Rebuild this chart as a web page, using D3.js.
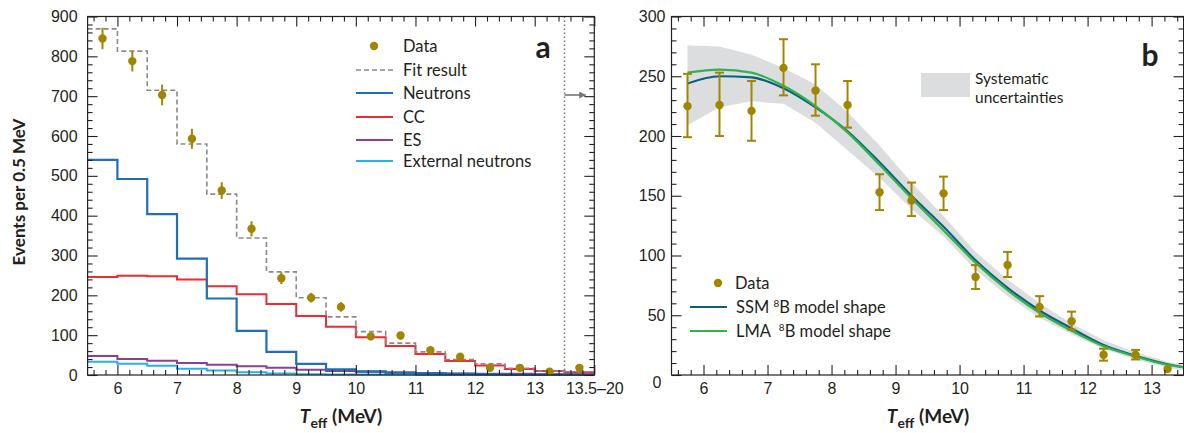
<!DOCTYPE html>
<html>
<head>
<meta charset="utf-8">
<script src="https://cdn.jsdelivr.net/npm/d3@7"></script>
<style>
  html, body { margin: 0; padding: 0; background: #fff; }
  svg { display: block; font-family: Lato, "Open Sans", sans-serif; }
  .tick text { font-size: 16px; fill: #231f20; }
</style>
</head>
<body>
<svg id="chart" width="1184" height="433"></svg>
<script>
// ---------- Panel a data (bins of 0.5 MeV; last bin = 13.5–20 MeV) ----------
const binEdgesA = [5.5, 6, 6.5, 7, 7.5, 8, 8.5, 9, 9.5, 10, 10.5, 11, 11.5, 12, 12.5, 13, 13.5, 14];
const dataA = [845, 788, 703, 593, 463, 367, 243, 194, 171, 97, 99, 62, 46, 18, 18, 8, 18];
const errA = [27, 26, 26, 25, 21, 19, 15, 12, 12, 10, 10, 8, 7, 6, 6, 4, 5];
const fitA = [869, 813, 715, 580, 454, 344, 259, 194, 146, 109, 80, 58, 39, 28, 17, 10, 8];
const neutronsA = [540, 492, 404, 292, 192, 111, 58, 28, 14, 9, 6, 4, 3, 2, 1, 1, 1];
const ccA = [246, 249, 248, 240, 223, 203, 178, 148, 121, 95, 73, 53, 35, 24, 15, 10, 7];
const esA = [48, 40, 36, 30, 26, 22, 18, 13, 10, 8, 6, 5, 4, 3, 3, 2, 2];
const extA = [33, 28, 23, 16, 11, 7, 4, 2, 1, 1, 1, 0, 0, 0, 0, 0, 0];
const xTicksA = [6, 7, 8, 9, 10, 11, 12, 13, 14];
const xTickLabelsA = ["6", "7", "8", "9", "10", "11", "12", "13", "13.5\u201320"];
const yTicksA = [0, 100, 200, 300, 400, 500, 600, 700, 800, 900];
const legendA = ["Data", "Fit result", "Neutrons", "CC", "ES", "External neutrons"];

// ---------- Panel b data ----------
const energyB = [5.75, 6.25, 6.75, 7.25, 7.75, 8.25, 8.75, 9.25, 9.75, 10.25, 10.75, 11.25, 11.75, 12.25, 12.75, 13.25];
const dataB = [225, 226, 221, 257, 238, 226, 153, 146, 152, 82, 92, 57, 45, 17, 17, 5];
const errLoB = [26, 26, 25, 23, 21, 19, 15, 13, 14, 10, 10, 8, 7, 5, 4, 0];
const errHiB = [27, 27, 25, 24, 22, 20, 15, 15, 14, 10, 11, 9, 8, 5, 4, 0];
const curveE = [5.75, 6.25, 6.75, 7.25, 7.75, 8.25, 8.75, 9.25, 9.75, 10.25, 10.75, 11.25, 11.75, 12.25, 12.75, 13.25, 13.5];
const ssmB = [244, 250, 249, 240, 224, 204, 178, 150, 124, 96, 73, 54, 39, 25, 16, 9, 6.5];
const lmaB = [253, 255.5, 253, 242, 225, 203, 176, 148, 121, 94, 71, 52, 37, 24, 15.5, 8.5, 6.5];
const bandHiB = [276, 275, 268, 257, 243, 220, 192, 161, 133, 103, 80, 60, 43, 29, 19, 11, 8];
const bandLoB = [209, 224, 229, 227, 211, 188, 165, 139, 116, 88, 66, 48, 34, 22, 13, 6, 4];
const xTicksB = [6, 7, 8, 9, 10, 11, 12, 13];
const yTicksB = [0, 50, 100, 150, 200, 250, 300];

// ---------- styles ----------
const INK = "#231f20";
const GOLD = "#a08600";
const C_NEUT = "#1f6fb6", C_CC = "#ee2b30", C_ES = "#8b3f9b", C_EXT = "#27b1e8", C_FIT = "#8a8a8a";
const C_SSM = "#0e5e7e", C_LMA = "#2fb34c", C_BAND = "#dcdddf";

const svg = d3.select("#chart");

function frameAxes(g, x, y, xMajor, xMinorStep, yMajor, yMinorStep, yPad, xLabelFmt) {
  const [x0, x1] = x.domain();
  const [y0, y1] = y.domain();
  const xMinor = d3.range(Math.ceil(x0 / xMinorStep) * xMinorStep, x1 + 1e-9, xMinorStep)
    .filter(v => !xMajor.some(m => Math.abs(m - v) < 1e-6));
  const yMinor = d3.range(y0, y1 + 1e-9, yMinorStep)
    .filter(v => !yMajor.some(m => Math.abs(m - v) < 1e-6));
  const yb = y.range()[0], yt = y.range()[1];
  const xl = x.range()[0], xr = x.range()[1];
  const style = s => s.call(a => a.select(".domain").remove())
    .call(a => a.selectAll(".tick line").attr("stroke", INK).attr("stroke-width", 1.1));
  g.append("g").attr("transform", `translate(0,${yb})`)
    .call(d3.axisBottom(x).tickValues(xMajor).tickSize(-10).tickPadding(8).tickFormat(xLabelFmt)).call(style);
  g.append("g").attr("transform", `translate(0,${yb})`)
    .call(d3.axisBottom(x).tickValues(xMinor).tickSize(-5).tickFormat("")).call(style);
  g.append("g").attr("transform", `translate(0,${yt})`)
    .call(d3.axisTop(x).tickValues(xMajor).tickSize(-10).tickFormat("")).call(style);
  g.append("g").attr("transform", `translate(0,${yt})`)
    .call(d3.axisTop(x).tickValues(xMinor).tickSize(-5).tickFormat("")).call(style);
  const la = g.append("g").attr("transform", `translate(${xl},0)`)
    .call(d3.axisLeft(y).tickValues(yMajor).tickSize(-10).tickPadding(yPad)).call(style);
  g.append("g").attr("transform", `translate(${xl},0)`)
    .call(d3.axisLeft(y).tickValues(yMinor).tickSize(-5).tickFormat("")).call(style);
  g.append("g").attr("transform", `translate(${xr},0)`)
    .call(d3.axisRight(y).tickValues(yMajor).tickSize(-10).tickFormat("")).call(style);
  g.append("g").attr("transform", `translate(${xr},0)`)
    .call(d3.axisRight(y).tickValues(yMinor).tickSize(-5).tickFormat("")).call(style);
  g.append("rect").attr("x", xl).attr("y", yt).attr("width", xr - xl).attr("height", yb - yt)
    .attr("fill", "none").attr("stroke", INK).attr("stroke-width", 1.2);
  return la;
}

function xTitle(g, cx) {
  const t = g.append("text").attr("x", cx).attr("y", 423).attr("text-anchor", "middle")
    .attr("font-size", 19).attr("font-weight", "bold").attr("fill", INK);
  t.append("tspan").attr("font-style", "italic").text("T");
  t.append("tspan").attr("font-size", 14).attr("dy", 5).text("eff");
  t.append("tspan").attr("dy", -5).text(" (MeV)");
}

// ================= Panel a =================
const gA = svg.append("g");
const xA = d3.scaleLinear().domain([5.5, 14]).range([87.6, 594.3]);
const yA = d3.scaleLinear().domain([0, 900]).range([375, 16.5]);

const stepPts = vals => binEdgesA.map((e, i) => [e, vals[Math.min(i, vals.length - 1)]]);
const stepLine = d3.line().x(d => xA(d[0])).y(d => yA(d[1])).curve(d3.curveStepAfter);

gA.append("path").datum(stepPts(extA)).attr("d", stepLine).attr("fill", "none")
  .attr("stroke", C_EXT).attr("stroke-width", 2);
gA.append("path").datum(stepPts(esA)).attr("d", stepLine).attr("fill", "none")
  .attr("stroke", C_ES).attr("stroke-width", 2);
gA.append("path").datum(stepPts(ccA)).attr("d", stepLine).attr("fill", "none")
  .attr("stroke", C_CC).attr("stroke-width", 2);
gA.append("path").datum(stepPts(neutronsA)).attr("d", stepLine).attr("fill", "none")
  .attr("stroke", C_NEUT).attr("stroke-width", 2.2);
gA.append("path").datum(stepPts(fitA)).attr("d", stepLine).attr("fill", "none")
  .attr("stroke", C_FIT).attr("stroke-width", 1.6).attr("stroke-dasharray", "5,3");

const centersA = binEdgesA.slice(0, -1).map((e, i) => (e + binEdgesA[i + 1]) / 2);
gA.selectAll(".errA").data(dataA).join("line")
  .attr("x1", (d, i) => xA(centersA[i])).attr("x2", (d, i) => xA(centersA[i]))
  .attr("y1", (d, i) => yA(d + errA[i])).attr("y2", (d, i) => yA(d - errA[i]))
  .attr("stroke", GOLD).attr("stroke-width", 2);
gA.selectAll(".ptA").data(dataA).join("circle")
  .attr("cx", (d, i) => xA(centersA[i])).attr("cy", d => yA(d)).attr("r", 4.2).attr("fill", GOLD);

gA.append("line").attr("x1", xA(13.5)).attr("x2", xA(13.5)).attr("y1", yA(900)).attr("y2", yA(0))
  .attr("stroke", "#777").attr("stroke-width", 1.5).attr("stroke-dasharray", "1.5,2.5");
svg.append("defs").append("marker").attr("id", "arr").attr("viewBox", "0 0 10 10")
  .attr("refX", 9).attr("refY", 5).attr("markerWidth", 9).attr("markerHeight", 7)
  .attr("markerUnits", "userSpaceOnUse").attr("orient", "auto")
  .append("path").attr("d", "M0,0 L10,5 L0,10 z").attr("fill", "#777");
gA.append("line").attr("x1", xA(13.5)).attr("x2", xA(13.5) + 21).attr("y1", 95).attr("y2", 95)
  .attr("stroke", "#777").attr("stroke-width", 1.6).attr("marker-end", "url(#arr)");

frameAxes(gA, xA, yA, xTicksA, 0.2, yTicksA, 20, 10, (d, i) => xTickLabelsA[xTicksA.indexOf(d)]);

const legRowsA = [46, 70, 93, 117, 140, 161];
const legColorsA = [null, C_FIT, C_NEUT, C_CC, C_ES, C_EXT];
legendA.forEach((name, i) => {
  const y = legRowsA[i];
  if (i === 0) {
    gA.append("circle").attr("cx", 374).attr("cy", y).attr("r", 4.2).attr("fill", GOLD);
  } else {
    gA.append("line").attr("x1", 356).attr("x2", 393).attr("y1", y).attr("y2", y)
      .attr("stroke", legColorsA[i]).attr("stroke-width", i === 1 ? 1.6 : 2)
      .attr("stroke-dasharray", i === 1 ? "5,3" : null);
  }
  gA.append("text").attr("x", 403).attr("y", y).attr("dy", "0.36em").attr("font-size", 16.5)
    .attr("fill", INK).text(name);
});
gA.append("text").attr("x", 543).attr("y", 58).attr("text-anchor", "middle")
  .attr("font-size", 30).attr("font-weight", "bold").attr("fill", INK).text("a");

xTitle(gA, 341);
gA.append("text").attr("transform", "translate(25,192) rotate(-90)").attr("text-anchor", "middle")
  .attr("font-size", 17).attr("font-weight", "bold").attr("fill", INK).text("Events per 0.5 MeV");

// ================= Panel b =================
const gB = svg.append("g");
const xB = d3.scaleLinear().domain([5.5, 13.5]).range([671.5, 1183.6]);
const yB = d3.scaleLinear().domain([0, 300]).range([375, 16.5]);

const band = d3.area().x((d, i) => xB(curveE[i])).y0((d, i) => yB(bandLoB[i])).y1(d => yB(d))
  .curve(d3.curveLinear);
gB.append("path").datum(bandHiB).attr("d", band).attr("fill", C_BAND);

const cLine = d3.line().x((d, i) => xB(curveE[i])).y(d => yB(d)).curve(d3.curveMonotoneX);
gB.append("path").datum(ssmB).attr("d", cLine).attr("fill", "none").attr("stroke", C_SSM).attr("stroke-width", 2.2);
gB.append("path").datum(lmaB).attr("d", cLine).attr("fill", "none").attr("stroke", C_LMA).attr("stroke-width", 2.2);

dataB.forEach((d, i) => {
  if (errHiB[i] <= 0) return;
  const x = xB(energyB[i]);
  const g = gB.append("g").attr("stroke", GOLD).attr("stroke-width", 2);
  g.append("line").attr("x1", x).attr("x2", x).attr("y1", yB(d + errHiB[i])).attr("y2", yB(d - errLoB[i]));
  g.append("line").attr("x1", x - 4.5).attr("x2", x + 4.5).attr("y1", yB(d + errHiB[i])).attr("y2", yB(d + errHiB[i]));
  g.append("line").attr("x1", x - 4.5).attr("x2", x + 4.5).attr("y1", yB(d - errLoB[i])).attr("y2", yB(d - errLoB[i]));
});
gB.selectAll(".ptB").data(dataB).join("circle")
  .attr("cx", (d, i) => xB(energyB[i])).attr("cy", d => yB(d)).attr("r", 4.2).attr("fill", GOLD);

const leftAxisB = frameAxes(gB, xB, yB, xTicksB, 0.2, yTicksB, 10, 6, d3.format("d"));
leftAxisB.selectAll(".tick").filter(d => d === 0).select("text").attr("dx", -4).attr("dy", "0.75em");

gB.append("rect").attr("x", 921).attr("y", 73).attr("width", 49).attr("height", 24).attr("fill", C_BAND);
gB.append("text").attr("x", 975).attr("y", 78).attr("dy", "0.36em").attr("font-size", 15.5).attr("fill", INK).text("Systematic");
gB.append("text").attr("x", 975).attr("y", 97).attr("dy", "0.36em").attr("font-size", 15.5).attr("fill", INK).text("uncertainties");

gB.append("circle").attr("cx", 718).attr("cy", 283).attr("r", 4.2).attr("fill", GOLD);
gB.append("text").attr("x", 735).attr("y", 283).attr("dy", "0.36em").attr("font-size", 16.5).attr("fill", INK).text("Data");
const legB = [["SSM", C_SSM, 307, ""], ["LMA", C_LMA, 331, "\u00a0"]];
legB.forEach(([nm, col, y, sp]) => {
  gB.append("line").attr("x1", 690).attr("x2", 727).attr("y1", y).attr("y2", y).attr("stroke", col).attr("stroke-width", 2.2);
  const t = gB.append("text").attr("x", 736).attr("y", y).attr("dy", "0.36em").attr("font-size", 16.5).attr("fill", INK);
  t.append("tspan").text(nm + " " + sp);
  t.append("tspan").attr("font-size", 10).attr("dy", -6).text("8");
  t.append("tspan").attr("dy", 6).text("B model shape");
});
gB.append("text").attr("x", 1150).attr("y", 66).attr("text-anchor", "middle")
  .attr("font-size", 30).attr("font-weight", "bold").attr("fill", INK).text("b");

xTitle(gB, 928);
</script>
</body>
</html>
